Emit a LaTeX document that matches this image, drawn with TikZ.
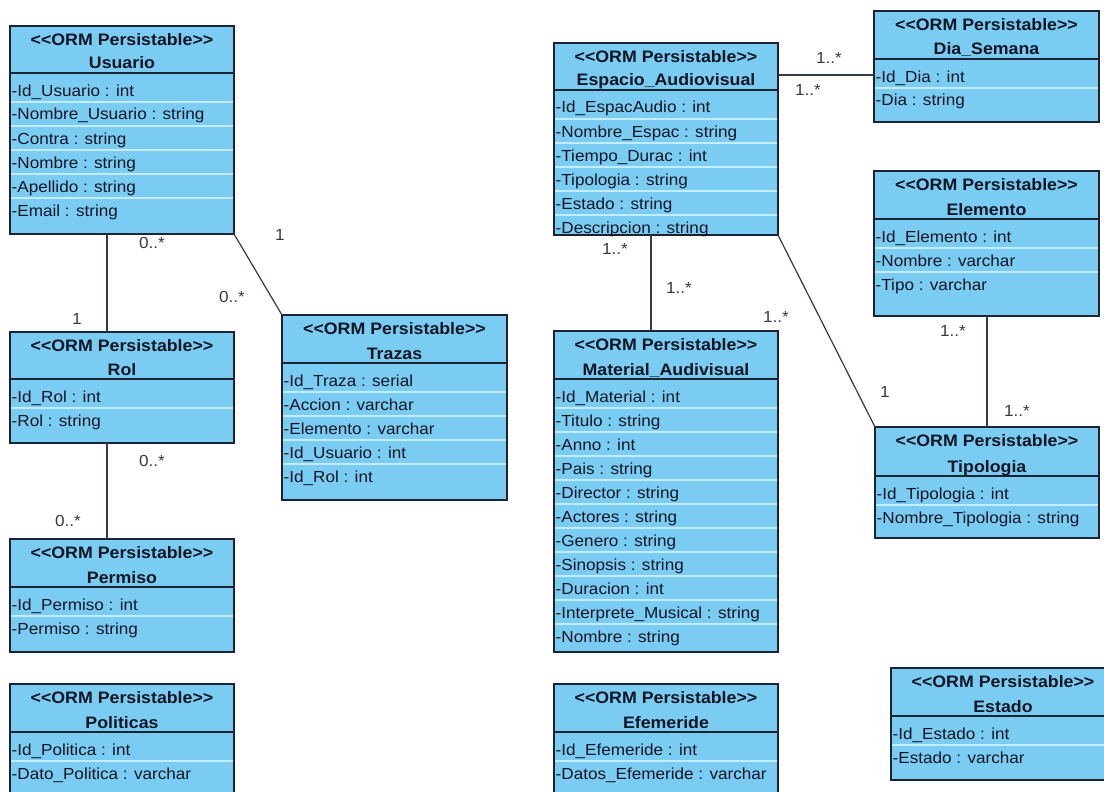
\documentclass[tikz,border=0pt]{standalone}
\usepackage{fontspec}
\setmainfont{Liberation Sans}[FakeStretch=1.07, Ligatures=TeXOff]
\usetikzlibrary{calc}

\definecolor{ormfill}{RGB}{122,204,242}
\definecolor{ormrule}{RGB}{196,236,252}
\definecolor{ormedge}{RGB}{28,36,52}
\definecolor{ormtext}{RGB}{18,22,36}

\tikzset{
  classbody/.style={draw=ormedge, fill=ormfill, line width=1.4pt, inner sep=0pt, outer sep=0pt},
  headrule/.style={draw=ormedge, line width=1.4pt},
  rowrule/.style={draw=ormrule, line width=1.2pt},
  stereo/.style={font=\fontsize{16.6}{19}\selectfont\bfseries, text=ormtext, inner sep=0pt, anchor=base},
  attr/.style={font=\fontsize{16}{19}\selectfont, text=ormtext, inner sep=0pt, anchor=base west},
  mult/.style={font=\fontsize{16}{19}\selectfont, text=ormtext!85, inner sep=0pt},
  assoc/.style={draw=ormedge!90, line width=1.2pt},
}

% #1 name, #2 left, #3 top, #4 header rule, #5 bottom, #6 width, #7 class name, #8 attributes
\newcommand\ormclass[8]{%
  \node[classbody, minimum width=#6*1pt, minimum height={(#5-#3)*1pt}, anchor=north west] (#1) at (#2,#3) {};
  \foreach \a [count=\i from 0] in {#8} {
    \ifnum\i>0 \draw[rowrule] ({#2+1},{#4+5+24*\i}) -- ({#2+#6-1},{#4+5+24*\i}); \fi
    \node[attr] (#1-a\i) at ({#2+1.5},{#4+23+24*\i}) {\a};
  }
  \draw[headrule] (#2,#4) -- ({#2+#6},#4);
  \node[stereo] (#1-st) at ({#2+#6/2},{#3+19.5}) {<<ORM Persistable>>};
  \node[stereo] (#1-nm) at ({#2+#6/2},{#4-4}) {#7};
}

\begin{document}
\begin{tikzpicture}[x=1pt, y=-1pt]
  \useasboundingbox (0,0) rectangle (1104,792);
  \fill[white] (0,0) rectangle (1104,792);
  \clip (0,0) rectangle (1104,792);

  % left group
  \ormclass{usuario}{10}{26}{73}{234}{224}{Usuario}
    {-Id\_Usuario : int, -Nombre\_Usuario : string, -Contra : string, -Nombre : string, -Apellido : string, -Email : string}
  \ormclass{rol}{10}{332}{379}{443}{224}{Rol}
    {-Id\_Rol : int, -Rol : string}
  \ormclass{permiso}{10}{539}{587}{652}{224}{Permiso}
    {-Id\_Permiso : int, -Permiso : string}
  \ormclass{politicas}{10}{684}{732}{800}{224}{Politicas}
    {-Id\_Politica : int, -Dato\_Politica : varchar}
  \ormclass{trazas}{282}{315}{363}{500}{225}{Trazas}
    {-Id\_Traza : serial, -Accion : varchar, -Elemento : varchar, -Id\_Usuario : int, -Id\_Rol : int}

  % right group
  \ormclass{espacio}{554}{43}{90}{235}{224}{Espacio\_Audiovisual}
    {-Id\_EspacAudio : int, -Nombre\_Espac : string, -Tiempo\_Durac : int, -Tipologia : string, -Estado : string, -Descripcion : string}
  \ormclass{dia}{874}{11}{59}{122}{225}{Dia\_Semana}
    {-Id\_Dia : int, -Dia : string}
  \ormclass{elemento}{874}{171}{219}{316}{225}{Elemento}
    {-Id\_Elemento : int, -Nombre : varchar, -Tipo : varchar}
  \ormclass{material}{554}{331}{379}{652}{224}{Material\_Audivisual}
    {-Id\_Material : int, -Titulo : string, -Anno : int, -Pais : string, -Director : string, -Actores : string, -Genero : string, -Sinopsis : string, -Duracion : int, -Interprete\_Musical : string, -Nombre : string}
  \ormclass{tipologia}{875}{427}{476}{538}{224}{Tipologia}
    {-Id\_Tipologia : int, -Nombre\_Tipologia : string}
  \ormclass{efemeride}{554}{684}{732}{800}{224}{Efemeride}
    {-Id\_Efemeride : int, -Datos\_Efemeride : varchar}
  \ormclass{estado}{891}{668}{716}{780}{224}{Estado}
    {-Id\_Estado : int, -Estado : varchar}

  % associations
  \draw[assoc] ([xshift=97pt]usuario.south west) -- ([xshift=97pt]rol.north west);
  \draw[assoc] (usuario.south east) -- (trazas.north west);
  \draw[assoc] ([xshift=97pt]rol.south west) -- ([xshift=97pt]permiso.north west);
  \draw[assoc] ([yshift=-32pt]espacio.north east) -- ([yshift=-32pt]espacio.north east -| dia.west);
  \draw[assoc] ([xshift=97pt]espacio.south west) -- ([xshift=97pt]material.north west);
  \draw[assoc] (espacio.south east) -- (tipologia.north west);
  \draw[assoc] ([xshift=113pt]elemento.south west) -- ([xshift=113pt]elemento.south west |- tipologia.north);

  % multiplicities
  \node[mult] (m1) at (152,243) {0..*};
  \node[mult] (m2) at (77,319) {1};
  \node[mult] (m3) at (280,235) {1};
  \node[mult] (m4) at (232,297) {0..*};
  \node[mult] (m5) at (152,461) {0..*};
  \node[mult] (m6) at (68,521) {0..*};
  \node[mult] (m7) at (829,58) {1..*};
  \node[mult] (m8) at (808,90) {1..*};
  \node[mult] (m9) at (615,249) {1..*};
  \node[mult] (m10) at (679,288) {1..*};
  \node[mult] (m11) at (776,317) {1..*};
  \node[mult] (m12) at (885,392) {1};
  \node[mult] (m13) at (953,331) {1..*};
  \node[mult] (m14) at (1017,411) {1..*};
\end{tikzpicture}
\end{document}
